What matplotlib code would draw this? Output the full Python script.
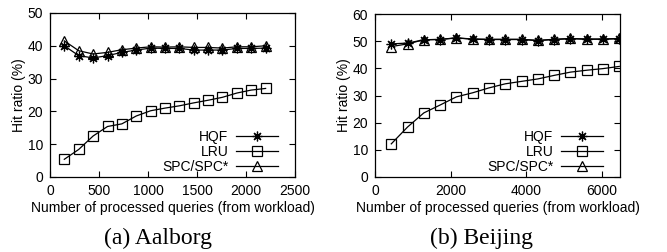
import numpy as np
import matplotlib
matplotlib.use("Agg")
import matplotlib.pyplot as plt

# Aalborg
x_aal = [146, 293, 440, 587, 733, 880, 1027, 1173, 1320, 1467, 1613, 1760, 1907, 2053, 2200]
hqf_aal = [40.0, 37.0, 36.3, 37.0, 38.0, 38.7, 39.3, 39.2, 39.2, 38.7, 38.7, 38.7, 39.2, 39.2, 39.3]
lru_aal = [5.4, 8.4, 12.5, 15.4, 16.2, 18.6, 20.2, 21.0, 21.7, 22.6, 23.4, 24.3, 25.6, 26.5, 27.0]
spc_aal = [41.5, 38.5, 37.5, 38.0, 38.8, 39.3, 39.7, 39.6, 39.7, 39.5, 39.5, 39.3, 39.7, 39.7, 40.0]

# Beijing
x_bei = [430, 860, 1290, 1720, 2150, 2580, 3010, 3440, 3870, 4300, 4730, 5160, 5590, 6020, 6450]
hqf_bei = [49.0, 49.3, 50.5, 50.6, 51.2, 50.7, 50.6, 50.6, 50.6, 50.2, 50.6, 50.9, 50.7, 50.7, 50.9]
lru_bei = [12.2, 18.4, 23.6, 26.5, 29.5, 31.0, 32.8, 34.3, 35.2, 36.1, 37.4, 38.6, 39.3, 39.9, 40.7]
spc_bei = [48.0, 49.0, 50.5, 50.7, 51.2, 50.8, 50.7, 50.7, 50.7, 50.3, 50.7, 51.0, 50.8, 50.8, 51.0]

labels = ["HQF", "LRU", "SPC/SPC*"]

plt.rcParams['font.family'] = ['Liberation Sans', 'DejaVu Sans']
plt.rcParams['font.size'] = 10

fig = plt.figure(figsize=(6.67, 2.52), dpi=100)
ax1 = fig.add_axes([50/667, 75/252, 245/667, 164/252])
ax2 = fig.add_axes([375/667, 75/252, 245/667, 163/252])

star = (8, 2, 0)

def draw(ax, x, hqf, lru, spc, xlim, ylim, xticks, yticks):
    ax.plot(x, hqf, color="black", lw=0.9, marker=star, ms=7, mew=0.9, label=labels[0])
    ax.plot(x, lru, color="black", lw=0.9, marker="s", ms=6.5, mfc="none", mew=0.9, label=labels[1])
    ax.plot(x, spc, color="black", lw=0.9, marker="^", ms=6.5, mfc="none", mew=0.9, label=labels[2])
    ax.set_xlim(*xlim)
    ax.set_ylim(*ylim)
    ax.set_xticks(xticks)
    ax.set_yticks(yticks)
    ax.tick_params(direction="in", top=True, right=True, length=4, width=0.8, pad=5)
    for s in ax.spines.values():
        s.set_linewidth(0.9)
    ax.set_ylabel("Hit ratio (%)", labelpad=1)
    ax.set_xlabel("Number of processed queries (from workload)", labelpad=2)
    ax.legend(loc="lower right", bbox_to_anchor=(0.93, 0.02), frameon=False,
              markerfirst=False, handlelength=3.0, labelspacing=0.05,
              borderaxespad=0, borderpad=0, handletextpad=0.55)

draw(ax1, x_aal, hqf_aal, lru_aal, spc_aal, (0, 2500), (0, 50),
     np.arange(0, 2501, 500), np.arange(0, 51, 10))
draw(ax2, x_bei, hqf_bei, lru_bei, spc_bei, (0, 6470), (0, 60),
     np.arange(0, 6001, 2000), np.arange(0, 61, 10))

fig.text(158/667, 1 - 238/252, "(a) Aalborg", ha="center", va="center",
         family="Liberation Serif", fontsize=17)
fig.text(482/667, 1 - 238/252, "(b) Beijing", ha="center", va="center",
         family="Liberation Serif", fontsize=17)

fig.savefig("out.png", dpi=100)
